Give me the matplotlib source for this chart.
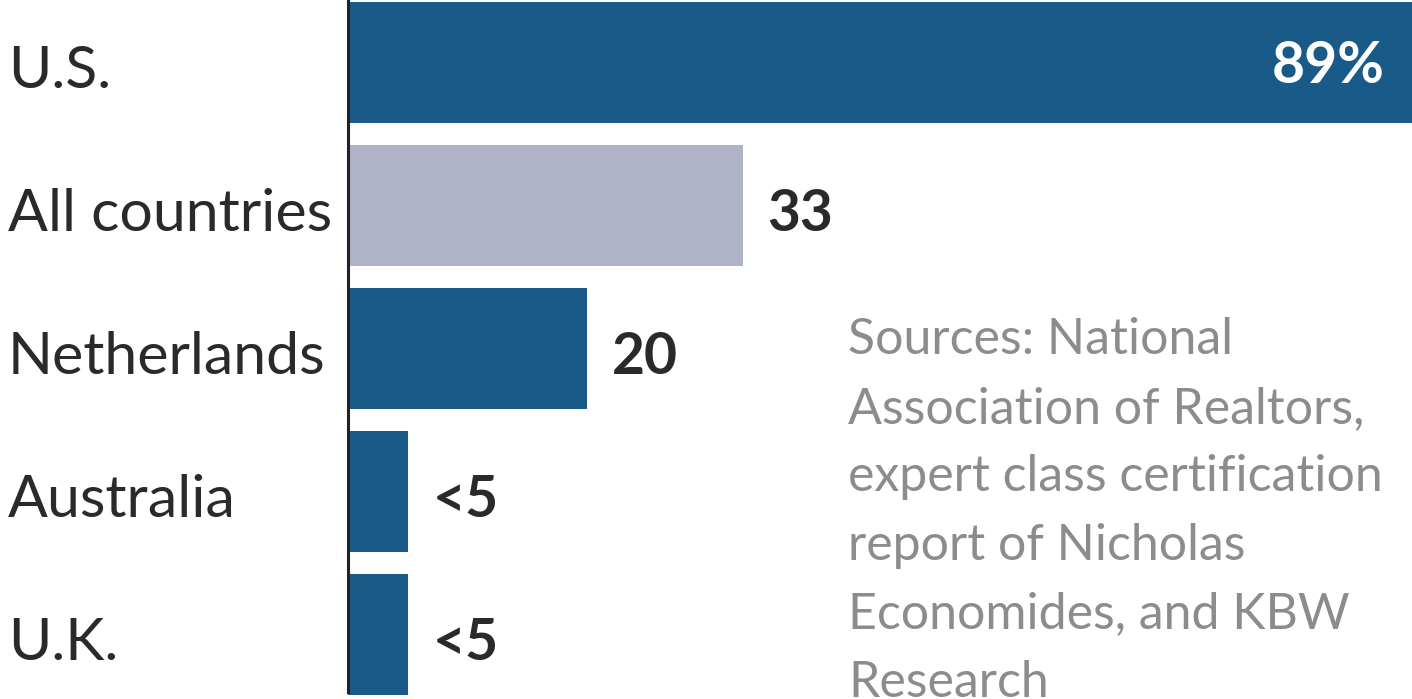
import matplotlib
matplotlib.use("Agg")
import matplotlib.pyplot as plt

categories = ["U.S.", "All countries", "Netherlands", "Australia", "U.K."]
values = [89, 33, 20, 5, 5]
value_labels = ["89%", "33", "20", "<5", "<5"]
bar_colors = ["#1a5a88", "#b0b3c8", "#1a5a88", "#1a5a88", "#1a5a88"]
source_text = ("Sources: National\nAssociation of Realtors,\nexpert class certification\n"
               "report of Nicholas\nEconomides, and KBW\nResearch")

W, H = 1412, 699
fig = plt.figure(figsize=(W / 100, H / 100), dpi=100)
fig.patch.set_facecolor("white")
ax = fig.add_axes([348 / W, 7 / H, 1 - 348 / W, 692 / H])

pitch = 143.0
top = -62 / pitch
bottom = top + 692 / pitch
ypos = list(range(len(categories)))
ax.barh(ypos, values, height=121 / pitch, color=bar_colors, clip_on=False)
ax.set_xlim(0, 89)
ax.set_ylim(bottom, top)

for s in ["top", "right", "bottom"]:
    ax.spines[s].set_visible(False)
ax.spines["left"].set_color("#222222")
ax.spines["left"].set_linewidth(2.2)
ax.set_xticks([])
ax.set_yticks([])

px = 89 / 1064  # data units per pixel (x)
base_off = 26 / pitch
fam = ["Lato", "DejaVu Sans"]
for y, name in zip(ypos, categories):
    ax.text(-340 * px, y + base_off, name, ha="left", va="baseline", fontsize=42.5,
            color="#2a2a2a", family=fam, clip_on=False)

for i, (y, v, lab) in enumerate(zip(ypos, values, value_labels)):
    if i == 0:
        ax.text(v - 27 * px, y + 21 / pitch, lab, ha="right", va="baseline", fontsize=41,
                fontweight="bold", color="white", family=fam)
    else:
        ax.text(v + 25 * px, y + base_off, lab, ha="left", va="baseline", fontsize=41,
                fontweight="bold", color="#2a2a2a", family=fam, clip_on=False)

# multi-line text: baseline alignment refers to the last line
fig.text(848 / W, 1 - 697 / H, source_text, ha="left", va="baseline", fontsize=36,
         color="#8c8c8c", family=fam, linespacing=1.61)

fig.savefig("out.png", dpi=100, facecolor="white")
